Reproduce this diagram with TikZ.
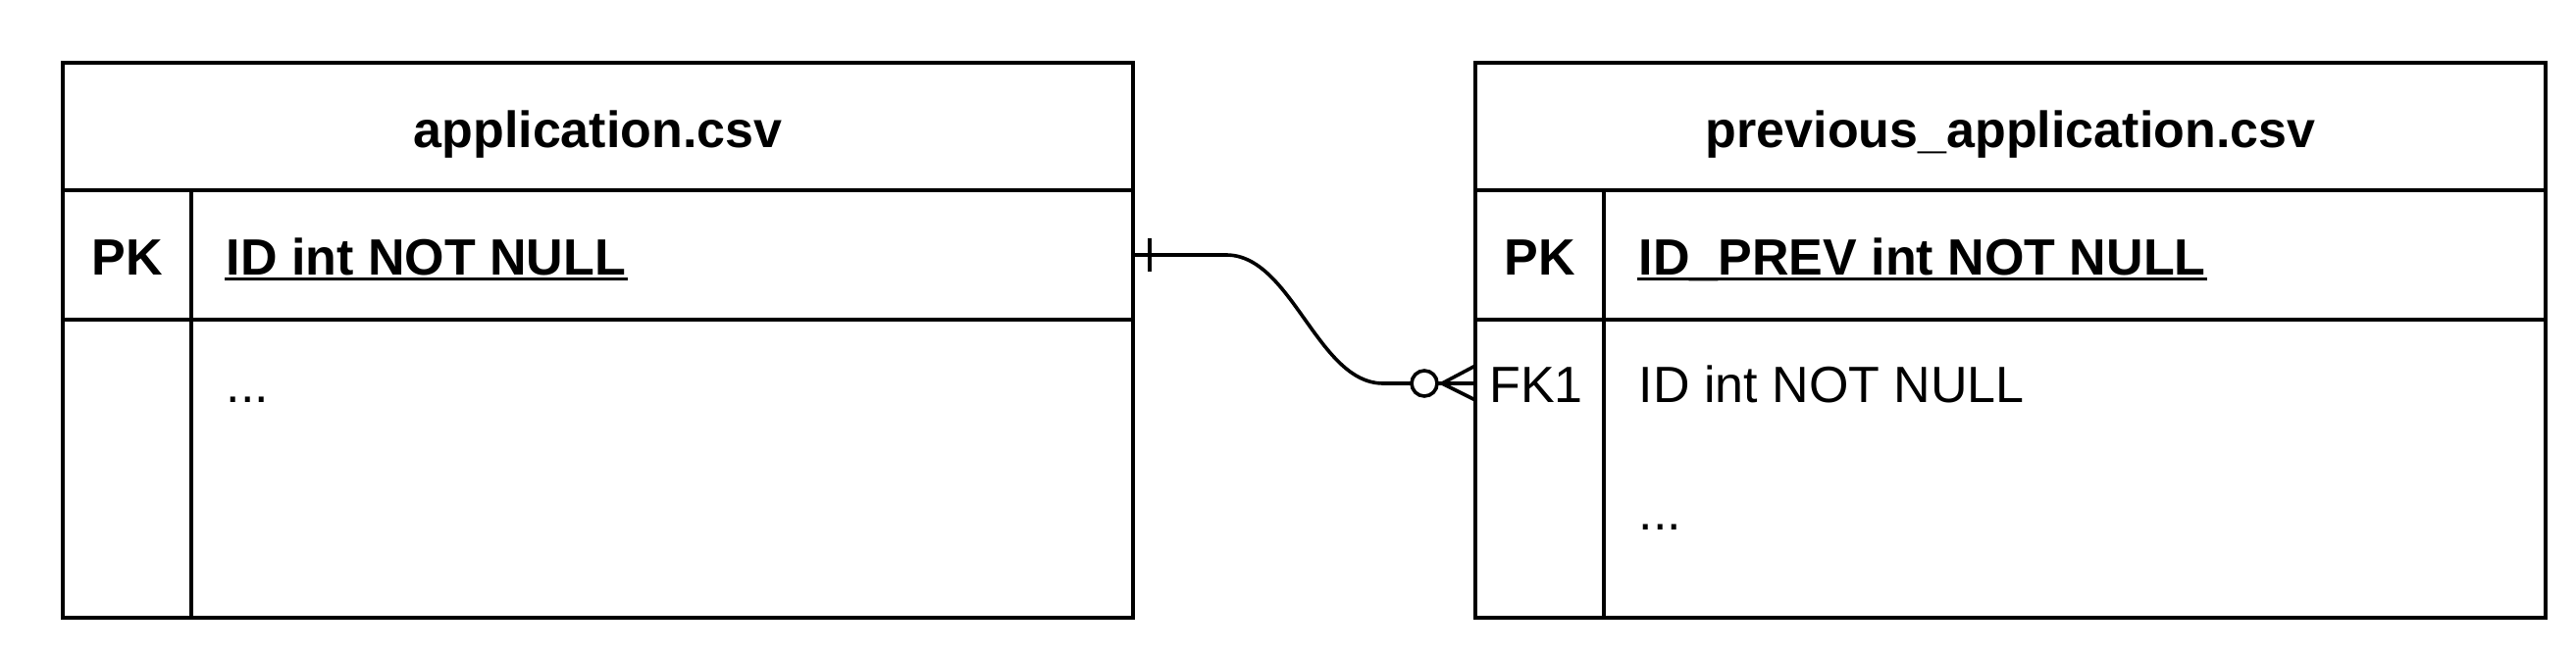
\documentclass[tikz,border=0pt]{standalone}
\usepackage{fontspec}
\setmainfont{Liberation Sans}
\begin{document}
\begin{tikzpicture}[x=0.5pt,y=-0.5pt,line width=1.8pt,
  txt/.style={inner sep=0pt,anchor=base west,font=\fontsize{26}{31}\selectfont},
  ctxt/.style={inner sep=0pt,anchor=base,font=\fontsize{26}{31}\selectfont},
  bold/.style={font=\fontsize{26}{31}\selectfont\bfseries},
  uline/.style={line width=1.5pt,line cap=butt}]
\useasboundingbox (0,0) rectangle (2626,668);
% left table
\draw (64,64) rectangle (1155,630);
\draw (64,194) -- (1155,194);
\draw (64,326) -- (1155,326);
\draw (195,194) -- (195,630);
\node[ctxt,bold] (t1) at (609.5,151) {application.csv};
\node[ctxt,bold] (pk1) at (129.5,280) {PK};
\node[txt,bold] (id1) at (229,280) {ID int NOT NULL};
\draw[uline] ([yshift=-2pt]id1.base west) -- ([yshift=-2pt]id1.base east);
\node[txt] (dots1) at (229,410) {...};
% right table
\draw (1504,64) rectangle (2595,630);
\draw (1504,194) -- (2595,194);
\draw (1504,326) -- (2595,326);
\draw (1635,194) -- (1635,630);
\node[ctxt,bold] (t2) at (2049.5,151) {previous\_application.csv};
\node[ctxt,bold] (pk2) at (1569.5,280) {PK};
\node[txt,bold] (id2) at (1669,280) {ID\_PREV int NOT NULL};
\draw[uline] ([yshift=-2pt]id2.base west) -- ([yshift=-2pt]id2.base east);
\node[ctxt] (fk) at (1566,410) {FK1};
\node[txt] (id3) at (1669,410) {ID int NOT NULL};
\node[txt] (dots2) at (1669,540) {...};
% connector
\coordinate (s) at (1155,260);
\coordinate (e) at (1504,391);
\coordinate (c) at (1452,391);
\draw (s) -- (1250,260) .. controls (1317,260) and (1343,391) .. (1410,391) -- ([xshift=-6.5pt]c);
\draw (1172,243) -- (1172,277);
\draw (c) circle[radius=6.5pt];
\draw ([xshift=6.5pt]c) -- (e);
\draw (1470,391) -- (1504,373);
\draw (1470,391) -- (1504,408);
\end{tikzpicture}
\end{document}
